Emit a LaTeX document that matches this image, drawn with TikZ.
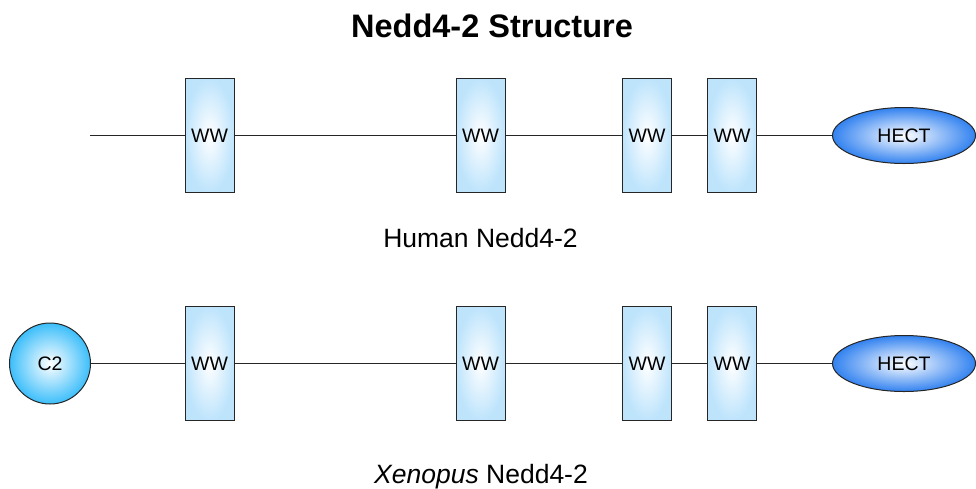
\documentclass[tikz,border=0pt]{standalone}
\usepackage{fontspec}
\setmainfont{Liberation Sans}
\usetikzlibrary{shapes.geometric}
\definecolor{wwout}{RGB}{190,228,252}
\definecolor{hectout}{RGB}{50,130,240}
\definecolor{ctwoout}{RGB}{60,190,250}
\tikzset{
  wwbox/.style={draw=black!85, line width=1pt, minimum width=49pt, minimum height=114pt,
    inner sep=0pt, shading=radial, inner color=white, outer color=wwout,
    font=\fontsize{19.5}{22}\selectfont},
  hect/.style={ellipse, draw=black!85, line width=1pt, minimum width=143pt, minimum height=56pt,
    inner sep=0pt, shading=radial, inner color=white, outer color=hectout,
    font=\fontsize{19.5}{22}\selectfont},
  ctwo/.style={circle, draw=black!85, line width=1pt, minimum size=81pt, inner sep=0pt,
    shading=radial, inner color=white, outer color=ctwoout,
    font=\fontsize{19.5}{22}\selectfont},
  link/.style={draw=black!85, line width=0.9pt},
  caption/.style={anchor=base, font=\fontsize{26.5}{30}\selectfont, inner sep=0pt},
}
\begin{document}
\begin{tikzpicture}[x=1pt,y=-1pt]
\useasboundingbox (0,0) rectangle (976,488);
\node[anchor=base, inner sep=0pt, font=\fontsize{32.5}{36}\selectfont\bfseries] (title) at (492,37) {Nedd4-2 Structure};
% row 1
\coordinate (start1) at (90,135.5);
\node[wwbox] (a1) at (209.5,135.5) {WW};
\node[wwbox] (b1) at (480.5,135.5) {WW};
\node[wwbox] (c1) at (647,135.5) {WW};
\node[wwbox] (d1) at (732,135.5) {WW};
\node[hect] (h1) at (904,135.5) {HECT};
\draw[link] (start1) -- (a1) (a1) -- (b1) (b1) -- (c1) (c1) -- (d1) (d1) -- (h1);
\node[caption] (cap1) at (480.5,247) {Human Nedd4-2};
% row 2
\node[ctwo] (c2) at (50,363.5) {C2};
\node[wwbox] (a2) at (209.5,363.5) {WW};
\node[wwbox] (b2) at (480.5,363.5) {WW};
\node[wwbox] (c2b) at (647,363.5) {WW};
\node[wwbox] (d2) at (732,363.5) {WW};
\node[hect] (h2) at (904,363.5) {HECT};
\draw[link] (c2) -- (a2) (a2) -- (b2) (b2) -- (c2b) (c2b) -- (d2) (d2) -- (h2);
\node[caption] (cap2) at (481,483) {\textit{Xenopus} Nedd4-2};
\end{tikzpicture}
\end{document}
